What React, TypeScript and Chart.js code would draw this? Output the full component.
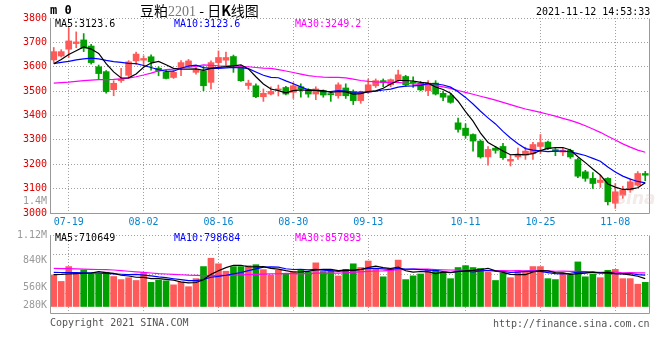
import React, { useEffect, useRef } from 'react';
import { Chart, registerables } from 'chart.js';

Chart.register(...registerables);

const DATES = [
  '07-15','07-16','07-19','07-20','07-21','07-22','07-23','07-26','07-27','07-28',
  '07-29','07-30','08-02','08-03','08-04','08-05','08-06','08-09','08-10','08-11',
  '08-12','08-13','08-16','08-17','08-18','08-19','08-20','08-23','08-24','08-25',
  '08-26','08-27','08-30','08-31','09-01','09-02','09-03','09-06','09-07','09-08',
  '09-09','09-10','09-13','09-14','09-15','09-16','09-17','09-22','09-23','09-24',
  '09-27','09-28','09-29','09-30','10-08','10-11','10-12','10-13','10-14','10-15',
  '10-18','10-19','10-20','10-21','10-22','10-25','10-26','10-27','10-28','10-29',
  '11-01','11-02','11-03','11-04','11-05','11-08','11-09','11-10','11-11','11-12'
];
const TICK_DATES = ['07-19','08-02','08-16','08-30','09-13','10-11','10-25','11-08'];

const OPEN = [
  3628,3644,3672,3695,3710,3685,3600,3580,3506,3543,
  3565,3624,3627,3641,3594,3577,3556,3597,3604,3577,
  3583,3536,3617,3627,3642,3601,3523,3522,3477,3488,
  3505,3515,3495,3518,3505,3488,3502,3490,3481,3513,
  3498,3461,3495,3522,3543,3526,3543,3560,3539,3533,
  3502,3533,3491,3481,3370,3348,3322,3295,3230,3266,
  3273,3213,3230,3237,3243,3273,3291,3260,3250,3257,
  3219,3169,3142,3125,3142,3040,3073,3094,3114,3162
];
const HIGH = [
  3679,3670,3760,3743,3736,3692,3607,3584,3543,3594,
  3625,3660,3645,3649,3600,3585,3585,3625,3630,3600,
  3600,3624,3665,3660,3648,3606,3545,3530,3509,3518,
  3525,3520,3535,3530,3510,3518,3505,3495,3534,3530,
  3505,3500,3550,3550,3550,3550,3586,3565,3559,3540,
  3543,3543,3500,3490,3389,3366,3325,3300,3273,3273,
  3286,3237,3266,3270,3290,3322,3295,3265,3265,3262,
  3224,3175,3166,3155,3145,3121,3110,3140,3170,3171
];
const LOW = [
  3617,3640,3638,3678,3662,3611,3550,3492,3481,3536,
  3556,3610,3604,3586,3563,3550,3552,3563,3600,3570,
  3502,3509,3597,3604,3577,3540,3508,3473,3458,3484,
  3480,3484,3470,3475,3475,3465,3475,3458,3471,3470,
  3445,3450,3490,3515,3518,3518,3540,3520,3515,3502,
  3481,3484,3461,3450,3332,3307,3254,3225,3196,3245,
  3220,3193,3220,3220,3220,3243,3260,3235,3235,3224,
  3145,3130,3101,3105,3033,3019,3060,3085,3110,3132
];
const CLOSE = [
  3662,3662,3706,3702,3676,3617,3572,3498,3532,3550,
  3620,3652,3634,3620,3583,3552,3577,3617,3624,3586,
  3522,3617,3638,3638,3604,3543,3533,3477,3491,3499,
  3509,3488,3522,3509,3488,3509,3484,3485,3526,3481,
  3461,3495,3526,3543,3535,3547,3567,3526,3533,3505,
  3533,3488,3475,3454,3343,3318,3295,3230,3261,3257,
  3227,3220,3237,3254,3281,3289,3264,3252,3258,3230,
  3151,3142,3121,3135,3046,3087,3094,3128,3162,3155
];

const MA5 = [
  3612,3630,3650,3666,3681.6,3672.6,3654.6,3613,3579,3553.8,
  3554.4,3570.4,3597.6,3615.2,3621.8,3608.2,3593.2,3589.8,3590.6,3591.2,
  3585.2,3593.2,3597.4,3600.2,3603.8,3608,3591.2,3559,3529.6,3508.6,
  3501.8,3492.8,3501.8,3505.4,3503.2,3503.2,3502.4,3495,3498.4,3497,
  3487.4,3489.6,3497.8,3501.2,3512,3529.2,3543.6,3543.6,3541.6,3535.6,
  3532.8,3517,3506.8,3491,3458.6,3415.6,3377,3328,3289.4,3272.2,
  3254,3239,3240.4,3239,3243.8,3256.2,3265,3268,3268.8,3258.6,
  3231,3206.6,3180.4,3155.8,3119,3106.2,3096.6,3098,3103.4,3123.6
];
const MA10 = [
  3613,3618,3622,3628,3632,3635,3632,3626,3621,3617.7,
  3613.5,3612.5,3605.3,3597.1,3587.8,3581.3,3581.8,3593.7,3602.9,3606.5,
  3596.7,3593.2,3593.6,3595.4,3597.5,3596.6,3592.2,3578.2,3564.9,3556.2,
  3554.9,3542,3530.4,3517.5,3505.9,3502.5,3497.6,3498.4,3501.9,3500.1,
  3495.3,3496,3496.4,3499.8,3504.5,3508.3,3516.6,3520.7,3521.4,3523.8,
  3531,3530.3,3525.2,3516.3,3497.1,3474.2,3447,3417.4,3390.2,3365.4,
  3334.8,3308,3284.2,3264.2,3258,3255.1,3252,3254.2,3253.9,3251.2,
  3243.6,3235.8,3224.2,3212.3,3188.6,3168.4,3151.4,3139,3129.4,3123.6
];
const MA30 = [
  3533,3535,3537,3540,3543,3545,3547,3547,3548,3550,
  3553,3559,3566,3574,3583,3588,3590,3594,3597,3602,
  3608,3606,3604,3603,3603,3601,3600,3597,3594,3593.5,
  3588.4,3582.6,3576.4,3570,3563.7,3560.1,3557.2,3556.8,3556.6,3554.3,
  3549,3543.7,3540.1,3537.6,3536,3535.8,3535.5,3532.4,3529.4,3526.7,
  3527.1,3522.8,3517.3,3511.2,3502.5,3495,3487.1,3478.8,3471.2,3463.1,
  3453.7,3444.8,3435.3,3426.8,3419.9,3412.5,3405.2,3397.4,3388.5,3380.1,
  3369.8,3358,3344.5,3330.9,3314.6,3299.3,3283.5,3270.3,3257.9,3249.2
];

const VOLUME = [
  806000,640000,1019000,846000,931000,830000,830000,877000,766000,687000,
  735000,664000,860000,616000,671000,656000,553000,632000,506000,711000,
  1019000,1232000,1090000,901000,1019000,1019000,1043000,1067000,941000,799000,
  924000,837000,901000,948000,877000,1114000,893000,908000,780000,948000,
  1090000,995000,1161000,955000,758000,979000,1185000,687000,782000,830000,
  948000,948000,870000,711000,995000,1043000,995000,972000,877000,664000,
  853000,735000,924000,877000,1019000,1019000,711000,687000,853000,813000,
  1138000,758000,830000,735000,924000,948000,711000,711000,569000,616000
];
const VMA5 = [
  815000,820000,830000,840000,848000,853000,891000,863000,847000,798000,
  779000,746000,742000,712000,709000,693000,671000,626000,604000,612000,
  684000,820000,912000,991000,1052000,1052000,1014000,1010000,1018000,974000,
  955000,914000,880000,882000,897000,935000,947000,948000,914000,929000,
  924000,944000,995000,1030000,992000,970000,1008000,913000,878000,893000,
  886000,839000,876000,861000,894000,913000,923000,943000,976000,910000,
  872000,820000,811000,811000,882000,915000,910000,863000,858000,817000,
  840000,850000,878000,855000,877000,839000,830000,806000,773000,710649
];
const VMA10 = [
  870000,868000,866000,864000,860000,856000,850000,843000,833000,823000,
  816000,819000,803000,780000,754000,736000,709000,684000,658000,660000,
  689000,746000,769000,797000,832000,868000,917000,961000,1004000,1013000,
  1004000,964000,945000,950000,936000,945000,930000,914000,898000,913000,
  930000,945000,971000,972000,960000,947000,976000,954000,954000,942000,
  928000,923000,894000,870000,894000,900000,881000,909000,919000,902000,
  893000,872000,877000,894000,896000,894000,865000,837000,834000,849000,
  878000,880000,871000,856000,847000,840000,840000,842000,814000,798684
];
const VMA30 = [
  972000,968000,965000,960000,955000,950000,945000,940000,931000,915000,
  900000,885000,870000,855000,840000,830000,820000,810000,800000,795000,
  790000,790000,792000,795000,800000,805000,812000,820000,826000,832000,
  836000,843000,839000,842000,840000,850000,852000,853000,853000,862000,
  874000,885000,895000,906000,909000,920000,941000,943000,952000,956000,
  954000,944000,937000,931000,930000,931000,929000,926000,924000,919000,
  917000,913000,914000,912000,917000,913000,907000,900000,902000,898000,
  899000,892000,881000,873000,879000,878000,862000,863000,856000,857893
];

const VOL_TICK_LABELS = ['280K', '560K', '840K', '1.12M'];

const UP = '#ff5a5a';
const DOWN = '#00a000';
const GRID = '#a0a0a0';
const FRAME = '#999999';
const MONO = '"DejaVu Sans Mono", "Liberation Mono", monospace';

const framePlugin = {
  id: 'frame',
  afterDraw(chart: any) {
    const { ctx, chartArea: a } = chart;
    ctx.save();
    ctx.strokeStyle = FRAME;
    ctx.lineWidth = 1;
    ctx.setLineDash([]);
    ctx.beginPath();
    const l = Math.round(a.left) + 0.5;
    const r = Math.round(a.right) + 0.5;
    const t = Math.round(a.top) + 0.5;
    const b = Math.round(a.bottom) + 0.5;
    ctx.moveTo(l, t);
    ctx.lineTo(l, b);
    ctx.lineTo(r, b);
    ctx.lineTo(r, t);
    ctx.stroke();
    ctx.restore();
  },
};

const xGridColor = (c: any) => (TICK_DATES.includes(DATES[c.index]) ? GRID : 'rgba(0,0,0,0)');

export default function App() {
  const priceRef = useRef<HTMLCanvasElement>(null);
  const volRef = useRef<HTMLCanvasElement>(null);

  useEffect(() => {
    const colors = CLOSE.map((c, i) => (c >= OPEN[i] ? UP : DOWN));
    const lineDs = (data: number[], color: string) => ({
      type: 'line' as const,
      data,
      borderColor: color,
      borderWidth: 1.2,
      pointRadius: 0,
      fill: false,
      tension: 0,
      order: 0,
    });

    const price = new Chart(priceRef.current!, {
      type: 'bar',
      data: {
        labels: DATES,
        datasets: [
          lineDs(MA5, '#000000'),
          lineDs(MA10, '#0000ff'),
          lineDs(MA30, '#ff00ff'),
          {
            type: 'bar',
            data: LOW.map((l, i) => [l, HIGH[i]]),
            backgroundColor: colors,
            borderWidth: 0,
            barThickness: 1,
            grouped: false,
            order: 2,
          } as any,
          {
            type: 'bar',
            data: OPEN.map((o, i) => [o, CLOSE[i]]),
            backgroundColor: colors,
            borderWidth: 0,
            barThickness: 6,
            minBarLength: 1,
            grouped: false,
            order: 1,
          } as any,
        ],
      },
      options: {
        responsive: false,
        animation: false,
        events: [],
        layout: { padding: { top: 18, right: 11, bottom: 0, left: 0 } },
        plugins: { legend: { display: false }, tooltip: { enabled: false } },
        scales: {
          x: {
            offset: true,
            grid: { offset: false, color: xGridColor, drawTicks: false, lineWidth: 1 },
            border: { display: false, dash: [1, 2] },
            ticks: {
              autoSkip: false,
              maxRotation: 0,
              minRotation: 0,
              padding: 3,
              color: '#0a84cc',
              font: { family: MONO, size: 10 },
              callback: (_v: any, i: number) => (TICK_DATES.includes(DATES[i]) ? DATES[i] : ''),
            },
            afterFit: (s: any) => { s.height = 19; },
          },
          y: {
            min: 3000,
            max: 3800,
            ticks: {
              stepSize: 100,
              color: '#dd0000',
              padding: 3,
              font: { family: MONO, size: 10 },
              callback: (v: any) => String(v),
            },
            grid: { color: GRID, drawTicks: false, lineWidth: 1 },
            border: { display: false, dash: [1, 2] },
            afterFit: (s: any) => { s.width = 50; },
          },
        },
      } as any,
      plugins: [framePlugin],
    });

    const vMin = -166000;
    const vMax = 1825000;
    const range = vMax - vMin;
    const vol = new Chart(volRef.current!, {
      type: 'bar',
      data: {
        labels: DATES,
        datasets: [
          lineDs(VMA5, '#000000'),
          lineDs(VMA10, '#0000ff'),
          lineDs(VMA30, '#ff00ff'),
          {
            type: 'bar',
            data: VOLUME,
            backgroundColor: colors,
            borderWidth: 0,
            barThickness: 6,
            order: 1,
          } as any,
        ],
      },
      options: {
        responsive: false,
        animation: false,
        events: [],
        layout: { padding: { top: 8, right: 11, bottom: 4, left: 0 } },
        plugins: { legend: { display: false }, tooltip: { enabled: false } },
        scales: {
          x: {
            offset: true,
            grid: { offset: false, color: xGridColor, drawTicks: false, lineWidth: 1 },
            border: { display: false, dash: [1, 2] },
            ticks: { display: false, autoSkip: false },
            afterFit: (s: any) => { s.height = 0; },
          },
          y: {
            position: 'left',
            min: vMin,
            max: vMax,
            afterBuildTicks: (s: any) => {
              s.ticks = [0.25, 0.5, 0.75, 1].map((f) => ({ value: vMin + range * f }));
            },
            ticks: { display: false },
            grid: { color: GRID, drawTicks: false, lineWidth: 1 },
            border: { display: false, dash: [1, 2] },
            afterFit: (s: any) => { s.width = 0; },
          },
          yl: {
            position: 'left',
            min: vMin,
            max: vMax,
            afterBuildTicks: (s: any) => {
              s.ticks = [0.095, 0.333, 0.679, 1].map((f) => ({ value: vMin + range * f }));
            },
            ticks: {
              color: '#999999',
              padding: 3,
              font: { family: MONO, size: 10 },
              callback: (_v: any, i: number) => VOL_TICK_LABELS[i],
            },
            grid: { display: false, drawTicks: false },
            border: { display: false },
            afterFit: (s: any) => { s.width = 50; },
          },
        },
      } as any,
      plugins: [framePlugin],
    });

    return () => {
      price.destroy();
      vol.destroy();
    };
  }, []);

  const txt = (extra: React.CSSProperties): React.CSSProperties => ({
    position: 'absolute',
    fontFamily: MONO,
    fontSize: 10,
    lineHeight: '12px',
    whiteSpace: 'pre',
    ...extra,
  });

  return (
    <div style={{ position: 'absolute', left: 0, top: 0, width: 660, height: 360, background: '#fff', overflow: 'hidden' }}>
      <canvas ref={priceRef} width={660} height={232} style={{ position: 'absolute', left: 0, top: 0 }} />
      <canvas ref={volRef} width={660} height={96} style={{ position: 'absolute', left: 0, top: 226 }} />

      <div style={txt({ left: 50, top: 4, fontSize: 12, fontWeight: 'bold', color: '#000' })}>m 0</div>
      <div style={txt({ left: 140, top: 2, fontSize: 14, lineHeight: '16px', color: '#000', fontFamily: '"Noto Sans CJK SC", "DejaVu Sans", sans-serif' })}>
        豆粕<span style={{ color: '#777', fontFamily: '"Liberation Serif", serif' }}>2201</span> - 日<b>K</b>线图
      </div>
      <div style={txt({ left: 536, top: 6, color: '#000' })}>2021-11-12 14:53:33</div>

      <div style={txt({ left: 55, top: 18, color: '#000' })}>MA5:3123.6</div>
      <div style={txt({ left: 174, top: 18, color: '#0000ff' })}>MA10:3123.6</div>
      <div style={txt({ left: 295, top: 18, color: '#ff00ff' })}>MA30:3249.2</div>

      <div style={txt({ left: 0, width: 47, top: 195, textAlign: 'right', color: '#999' })}>1.4M</div>
      <div style={txt({ left: 616, top: 188, fontSize: 17, lineHeight: '20px', fontStyle: 'italic', fontWeight: 'bold', color: 'rgba(215,185,185,0.3)', fontFamily: '"DejaVu Sans", sans-serif' })}>sina</div>

      <div style={txt({ left: 55, top: 232, color: '#000' })}>MA5:710649</div>
      <div style={txt({ left: 174, top: 232, color: '#0000ff' })}>MA10:798684</div>
      <div style={txt({ left: 295, top: 232, color: '#ff00ff' })}>MA30:857893</div>

      <div style={txt({ left: 50, top: 317, color: '#555' })}>Copyright 2021 SINA.COM</div>
      <div style={txt({ left: 493, top: 318, color: '#555' })}>http://finance.sina.com.cn</div>
    </div>
  );
}
